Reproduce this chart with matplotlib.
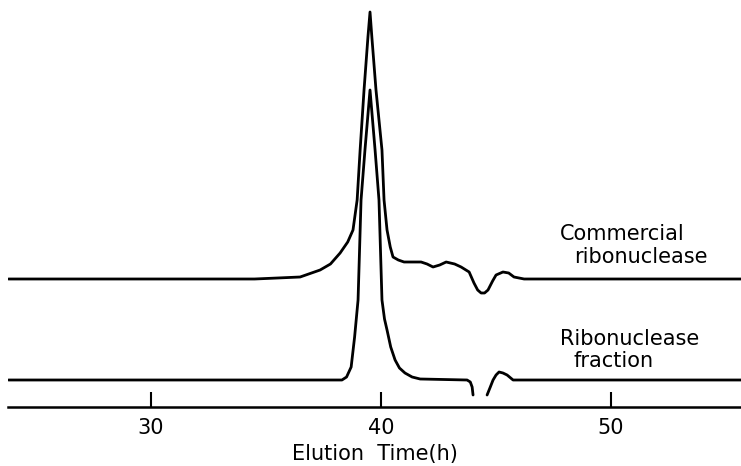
import numpy as np
import matplotlib.pyplot as plt

# ── Data (elution time in h, detector signal in arbitrary units) ──
commercial_t = [23.8, 34.5, 35.5, 36.48, 37.35, 37.8, 38.22, 38.55, 38.78, 38.96,
                39.09, 39.26, 39.43, 39.52, 39.6, 39.78, 40.04, 40.13, 40.26,
                40.4, 40.52, 40.75, 41.0, 41.4, 41.74, 42.0, 42.26, 42.55, 42.83,
                43.2, 43.48, 43.83, 44.04, 44.2, 44.35, 44.5, 44.65, 44.85, 45.0,
                45.3, 45.55, 45.78, 46.22, 55.7]
commercial_y = [128, 128, 129, 130, 137, 143, 154, 165, 177, 207,
                257, 317, 370, 395, 370, 317, 257, 207, 177,
                160, 150, 147, 145, 145, 145, 143, 140, 142, 145,
                143, 140, 135, 124, 117, 114, 114, 117, 126, 132,
                135, 134, 130, 128, 128]

fraction_t = [23.8, 38.3, 38.5, 38.7, 38.85, 39.0, 39.13, 39.3, 39.52,
              39.74, 39.91, 40.04, 40.15, 40.26, 40.42, 40.61, 40.8, 41.04,
              41.35, 41.7, 43.74, 43.88, 43.96, 44.0, np.nan,
              44.61, 44.75, 44.87, 45.0, 45.13, 45.3, 45.48, 45.74, 55.7]
fraction_y = [27, 27, 30, 40, 70, 107, 207, 257, 317,
              257, 207, 107, 88, 77, 60, 47, 39, 34,
              30, 28, 27, 25, 20, 12, np.nan,
              12, 20, 27, 32, 35, 34, 32, 27, 27]

ticks = [30, 40, 50]
tick_labels = ["30", "40", "50"]

INK = "black"
FS = 15

fig = plt.figure(figsize=(7.41, 4.66), dpi=100, facecolor="white")
ax = fig.add_axes([8 / 741, 59 / 466, 733 / 741, 407 / 466])

ax.plot(commercial_t, commercial_y, color=INK, lw=2.0,
        solid_joinstyle="round", solid_capstyle="round")
ax.plot(fraction_t, fraction_y, color=INK, lw=2.0,
        solid_joinstyle="round", solid_capstyle="round")

ax.set_xlim(23.78, 55.65)
ax.set_ylim(0, 407)

for side in ["left", "right", "top"]:
    ax.spines[side].set_visible(False)
ax.spines["bottom"].set_linewidth(1.8)
ax.set_yticks([])
ax.set_xticks(ticks)
ax.set_xticklabels(tick_labels, fontsize=FS)
ax.tick_params(axis="x", direction="in", length=11, width=1.5, pad=8)
ax.set_xlabel("Elution  Time(h)", fontsize=FS, labelpad=4)

ax.text(47.78, 167, "Commercial", fontsize=FS, ha="left", va="baseline")
ax.text(48.4, 144, "ribonuclease", fontsize=FS, ha="left", va="baseline")
ax.text(47.78, 62, "Ribonuclease", fontsize=FS, ha="left", va="baseline")
ax.text(48.35, 40, "fraction", fontsize=FS, ha="left", va="baseline")

fig.savefig("out.png", dpi=100, facecolor="white")
